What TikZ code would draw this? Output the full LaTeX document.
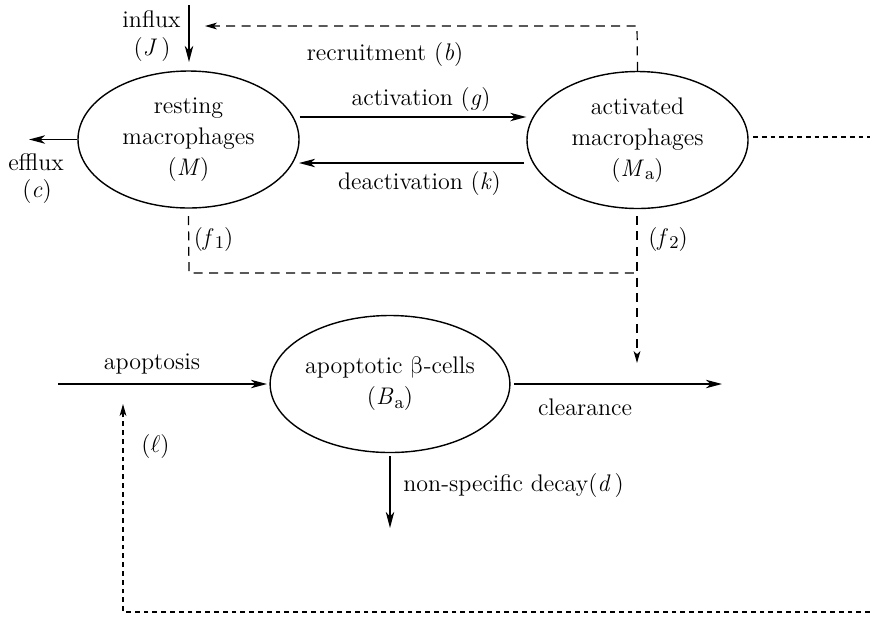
\documentclass[tikz,border=0pt]{standalone}
\usepackage{fontspec}
\newfontfamily\grk{Latin Modern Math}
\usetikzlibrary{arrows.meta,shapes.geometric}
% italic variable with an upright lowered index
\newcommand\vv[1]{\textit{#1}}
\newcommand\idx[1]{\kern0.05em\lower0.35ex\hbox{\fontsize{9}{9}\selectfont #1}}
\tikzset{
  compart/.style={draw,ellipse,line width=0.7pt,inner sep=0pt,
    minimum width=110.5pt,minimum height=68.5pt,align=center,
    font=\fontsize{12}{15.5}\selectfont},
  flow/.style={line width=0.7pt,-{Stealth[length=8pt,width=4.2pt,inset=2.2pt]}},
  longdash/.style={line width=0.6pt,dash pattern=on 4.5pt off 3.2pt},
  shortdash/.style={line width=0.6pt,dash pattern=on 2.4pt off 2pt},
  dtip/.style={-{Stealth[length=6pt,width=3.4pt,inset=1.6pt]}},
  lbl/.style={inner sep=0pt,font=\fontsize{12}{14}\selectfont}
}
\begin{document}
\begin{tikzpicture}[x=0.5pt,y=-0.5pt]
\useasboundingbox (0,0) rectangle (870,617);

% compartments
\node[compart] (M)  at (188.5,139.5) {resting\\macrophages\\(\vv{M})};
\node[compart] (Ma) at (637.5,140)   {activated\\macrophages\\(\vv{M}\idx{a})};
\node[compart] (Ba) at (390,384)     {apoptotic {\grk β}-cells\\(\vv{B}\idx{a})};

% free ends of the flows
\coordinate (inTop)    at (189,5);
\coordinate (inEnd)    at (189,62);
\coordinate (outEnd)   at (29,139.5);
\coordinate (recTop)   at (637,26);
\coordinate (recEnd)   at (205,26);
\coordinate (f1Low)    at (189,273);
\coordinate (f2Low)    at (637,273);
\coordinate (f2End)    at (637,363);
\coordinate (maRight)  at (753,137);
\coordinate (maFar)    at (870,137);
\coordinate (apoStart) at (58,384);
\coordinate (apoEnd)   at (267,384);
\coordinate (clrStart) at (514,384);
\coordinate (clrEnd)   at (722,384);
\coordinate (decStart) at (390,456);
\coordinate (decEnd)   at (390,528);
\coordinate (lowLeft)  at (123,612);
\coordinate (lowRight) at (870,612);
\coordinate (ellEnd)   at (123,404);

% influx and efflux
\draw[flow] (inTop) -- (inEnd);
\draw[flow] (M.west) -- (outEnd);

% activation / deactivation
\draw[flow] (M.east |- 0,117) -- (Ma.west |- 0,117);
\draw[flow] (524,163) -- (299,163);

% recruitment feedback
\draw[longdash,dtip] (Ma.north) -- (recTop) -- (recEnd);

% phagocytosis pathways f1, f2
\draw[longdash] (M.south |- 0,216) -- (f1Low) -- (f2Low);
\draw[longdash,dtip] (637,216) -- (f2End);

% outgoing dashed line from activated macrophages
\draw[shortdash] (maRight) -- (maFar);

% apoptotic beta-cell flows
\draw[flow] (apoStart) -- (apoEnd);
\draw[flow] (clrStart) -- (clrEnd);
\draw[flow] (decStart) -- (decEnd);

% return loop (l)
\draw[shortdash,dtip] (lowRight) -- (lowLeft) -- (ellEnd);

% labels
\node[lbl] (tIn)   at (151.5,19)  {influx};
\node[lbl] (tJ)    at (152,50)    {(\vv{J}\,)};
\node[lbl] (tOut)  at (36,162)    {efflux};
\node[lbl] (tc)    at (37,192)    {(\vv{c})};
\node[lbl] (tRec)  at (385,55)    {recruitment (\vv{b})};
\node[lbl] (tAct)  at (421,100)   {activation (\vv{g})};
\node[lbl] (tDeac) at (419.5,184) {deactivation (\vv{k})};
\node[lbl] (tf1)   at (213.5,239) {(\vv{f}\idx{1})};
\node[lbl] (tf2)   at (668,239)   {(\vv{f}\idx{2})};
\node[lbl] (tApo)  at (152,364)   {apoptosis};
\node[lbl] (tEll)  at (155.5,446) {($\ell$)};
\node[lbl] (tClr)  at (585,407)   {clearance};
\node[lbl,anchor=west] (tDec) at (403,485) {non-specific decay(\vv{d}\,)};
\end{tikzpicture}
\end{document}
